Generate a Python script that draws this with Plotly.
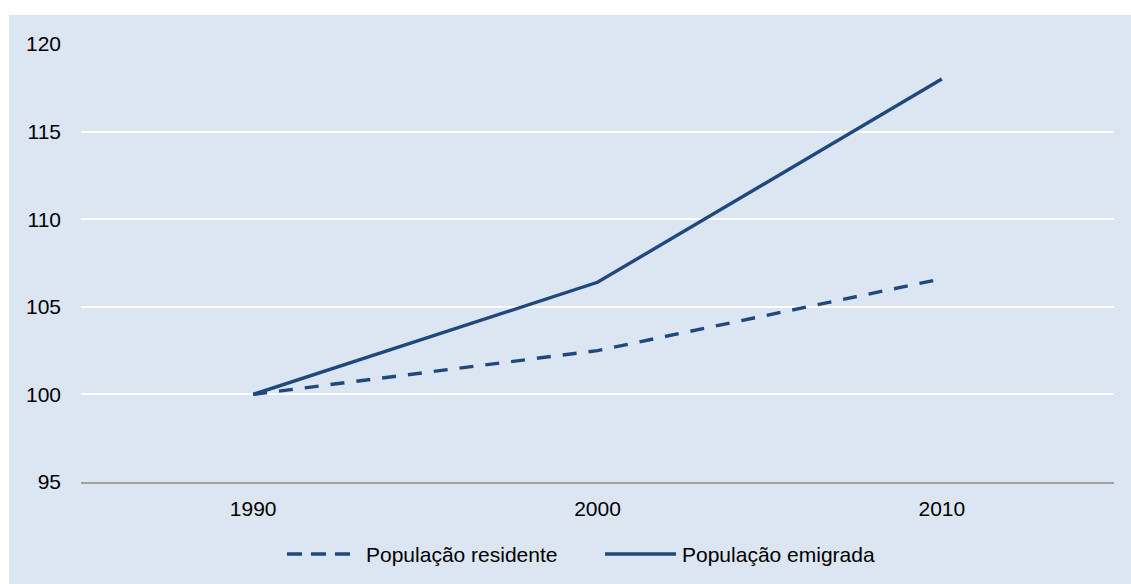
import plotly.graph_objects as go

# Index of population (1990 = 100)
years = ["1990", "2000", "2010"]
residente = [100.0, 102.5, 106.6]
emigrada = [100.0, 106.4, 118.0]
series_names = ["População residente", "População emigrada"]
y_ticks = [95, 100, 105, 110, 115, 120]

LINE = "#1f497d"
BG = "#dce6f2"
FONT = "Liberation Sans, Arial, sans-serif"
FSIZE = 21

fig = go.Figure()
fig.add_trace(go.Scatter(x=years, y=residente, mode="lines", name=series_names[0],
                         line=dict(color=LINE, width=3.4, dash="14px,12px")))
fig.add_trace(go.Scatter(x=years, y=emigrada, mode="lines", name=series_names[1],
                         line=dict(color=LINE, width=3.4)))

# light panel behind the whole chart
fig.add_shape(type="rect", xref="paper", yref="paper", x0=-0.0697, x1=1.03,
              y0=-0.3, y1=1.0662, fillcolor=BG, line_width=0, layer="below")

# legend keys drawn below the axis
leg_y = -0.1644
fig.add_shape(type="line", xref="paper", yref="paper", x0=0.1994, x1=0.2662,
              y0=leg_y, y1=leg_y, line=dict(color=LINE, width=3.4, dash="15px,9px"))
fig.add_shape(type="line", xref="paper", yref="paper", x0=0.5073, x1=0.576,
              y0=leg_y, y1=leg_y, line=dict(color=LINE, width=3.4))
fig.add_annotation(xref="paper", yref="paper", x=0.2735, y=leg_y, text=series_names[0],
                   showarrow=False, xanchor="left", yanchor="middle",
                   font=dict(family=FONT, size=FSIZE, color="#000000"))
fig.add_annotation(xref="paper", yref="paper", x=0.5795, y=leg_y, text=series_names[1],
                   showarrow=False, xanchor="left", yanchor="middle",
                   font=dict(family=FONT, size=FSIZE, color="#000000"))

fig.update_layout(
    width=1131, height=584,
    margin=dict(l=81, r=17, t=44, b=102),
    paper_bgcolor="#ffffff",
    plot_bgcolor=BG,
    showlegend=False,
    font=dict(family=FONT, size=FSIZE, color="#000000"),
)
fig.update_xaxes(type="category", range=[-0.5, 2.5], showgrid=False,
                 showline=True, linecolor="#a0a0a0", linewidth=2,
                 ticks="", ticklabelstandoff=7, zeroline=False,
                 tickfont=dict(family=FONT, size=FSIZE, color="#000000"))
fig.update_yaxes(range=[95, 120], tickvals=y_ticks, showgrid=True,
                 gridcolor="#ffffff", gridwidth=2, zeroline=False, showline=False,
                 ticks="", ticklabelstandoff=19,
                 tickfont=dict(family=FONT, size=FSIZE, color="#000000"))

fig.write_html("out.html")
